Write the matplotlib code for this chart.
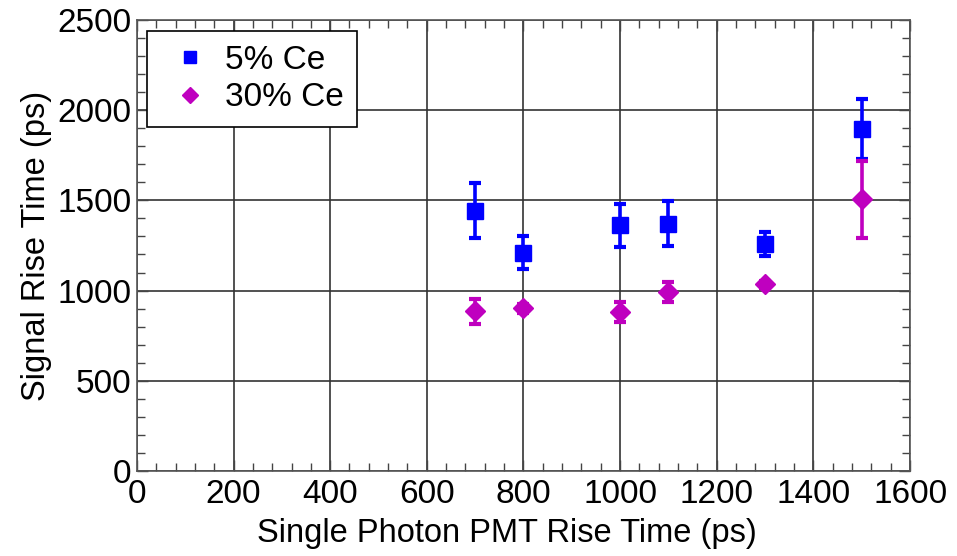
import matplotlib.pyplot as plt
from matplotlib.ticker import MultipleLocator

plt.rcParams["font.family"] = ["Liberation Sans", "DejaVu Sans"]

# PMT rise time (ps) and measured signal rise time (ps)
pmt_rise = [700, 800, 1000, 1100, 1300, 1500]
rise_5ce = [1443, 1210, 1362, 1370, 1258, 1895]
err_5ce = [152, 90, 120, 125, 65, 165]
rise_30ce = [885, 902, 883, 994, 1035, 1506]
err_30ce = [70, 25, 55, 55, 20, 215]

fig = plt.figure(figsize=(9.57, 5.56), dpi=100)
ax = fig.add_axes([0.143, 0.153, 0.808, 0.811])

blue = "#0000ff"
mag = "#bf00bf"

ax.errorbar(pmt_rise, rise_5ce, yerr=err_5ce, fmt="s", color=blue, markersize=11.5,
            elinewidth=2.6, capsize=4, capthick=3, label="5% Ce", zorder=3)
ax.errorbar(pmt_rise, rise_30ce, yerr=err_30ce, fmt="D", color=mag, markersize=10.5,
            elinewidth=2.6, capsize=4, capthick=3, label="30% Ce", zorder=3)

ax.set_xlim(0, 1600)
ax.set_ylim(0, 2500)
ax.xaxis.set_major_locator(MultipleLocator(200))
ax.xaxis.set_minor_locator(MultipleLocator(40))
ax.yaxis.set_major_locator(MultipleLocator(500))
ax.yaxis.set_minor_locator(MultipleLocator(100))

ax.grid(which="major", color="#333333", linewidth=1.2)
ax.tick_params(which="both", direction="in", top=True, right=True, color="#444444")
ax.tick_params(which="major", length=8, width=1, labelsize=24)
ax.tick_params(axis="x", which="major", pad=6)
ax.tick_params(axis="y", which="major", pad=4)
ax.tick_params(which="minor", length=6, width=1)
for s in ax.spines.values():
    s.set_color("#555555")
    s.set_linewidth(1.2)

ax.set_xlabel("Single Photon PMT Rise Time (ps)", fontsize=23.5)
ax.xaxis.set_label_coords(0.479, -0.105)
ax.set_ylabel("Signal Rise Time (ps)", fontsize=23.5, labelpad=4)

h, l = ax.get_legend_handles_labels()
h = [x[0] for x in h]
leg = ax.legend(h, l, loc="upper left", bbox_to_anchor=(0.013, 0.975), fontsize=24,
                frameon=True, fancybox=False, edgecolor="black", framealpha=1,
                handlelength=1.8, handletextpad=0.15, borderpad=0.4, labelspacing=0.2,
                borderaxespad=0.0, markerscale=0.8)
leg.get_frame().set_linewidth(1.2)

fig.savefig("out.png", dpi=100)
